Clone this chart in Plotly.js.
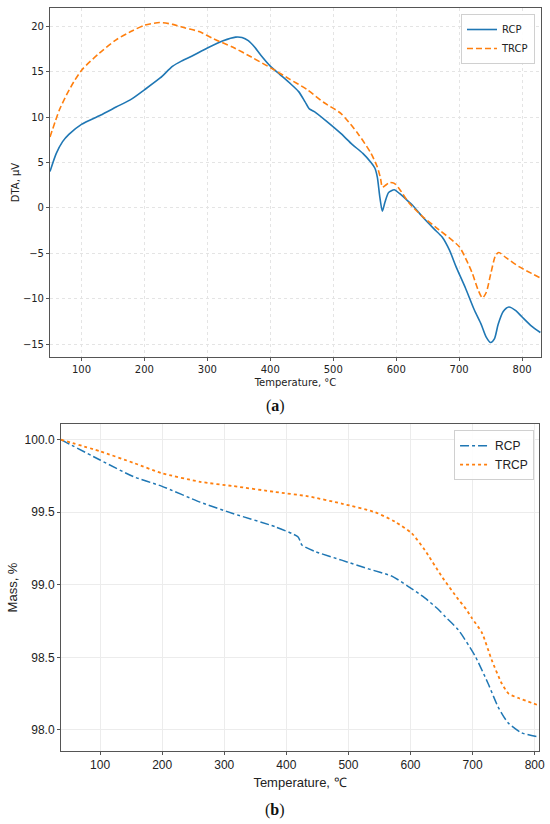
<!DOCTYPE html>
<html>
<head>
<meta charset="utf-8">
<script src="https://cdn.plot.ly/plotly-3.0.1.min.js"></script>
<style>html,body{margin:0;padding:0;background:#fff;}#chart{width:550px;height:824px;}</style>
</head>
<body>
<div id="chart"></div>
<script>
// (a) DTA curves
const dtaRcpT = [50,60,70,80,100,130,155,180,200,225,245,260,275,300,325,345,355,365,375,385,400,415,430,445,455,462,470,490,512,530,547,560,566,570,574,578,582,588,597,605,615,626,642,660,673,685,695,710,724,735,743,750,756,762,770,779,790,800,815,829];
const dtaRcpV = [4.0,6.0,7.3,8.1,9.2,10.2,11.1,12.0,13.0,14.3,15.6,16.2,16.7,17.6,18.4,18.8,18.75,18.4,17.7,16.8,15.6,14.7,13.8,12.8,11.7,10.9,10.6,9.5,8.2,7.0,6.0,5.0,4.4,3.4,1.2,-0.35,0.6,1.7,2.0,1.6,1.0,0.3,-1.0,-2.3,-3.2,-4.7,-6.45,-8.8,-11.2,-12.8,-14.2,-14.8,-14.4,-12.8,-11.4,-10.9,-11.3,-12.0,-13.0,-13.7];
const dtaTrcpT = [50,65,76,88,102,128,155,181,200,224,245,265,287,310,340,370,406,430,459,485,512,539,560,570,575,578,583,589,597,605,621,642,668,700,712,721,730,737,743,750,758,763,775,795,815,829];
const dtaTrcpV = [7.8,10.8,12.4,13.9,15.3,17.0,18.5,19.5,20.1,20.4,20.2,19.8,19.4,18.6,17.7,16.6,15.2,14.2,13.0,11.6,10.4,8.2,6.0,4.5,3.3,2.3,2.5,2.8,2.7,2.1,0.5,-0.95,-2.4,-4.25,-5.8,-7.2,-9.0,-9.9,-9.3,-7.3,-5.2,-4.9,-5.5,-6.45,-7.2,-7.7];
// (b) Mass curves
const massRcpT = [37,100,154,199,261,315,382,419,425,446,489,532,570,596,623,645,656,677,704,725,741,757,779,803];
const massRcpV = [100.0,99.86,99.745,99.68,99.57,99.49,99.40,99.33,99.275,99.23,99.17,99.11,99.06,98.99,98.91,98.83,98.78,98.69,98.51,98.32,98.16,98.05,97.98,97.955];
const massTrcpT = [37,100,154,199,261,315,382,435,489,543,575,602,623,650,677,690,699,715,731,747,758,774,806];
const massTrcpV = [100.0,99.92,99.84,99.77,99.71,99.68,99.64,99.61,99.56,99.50,99.435,99.355,99.24,99.06,98.90,98.83,98.77,98.67,98.48,98.32,98.25,98.22,98.17];
const seriesNames = ['RCP','TRCP'];

const blue = '#1f77b4', orange = '#ff7f0e';
const traces = [
  {x: dtaRcpT, y: dtaRcpV, name: seriesNames[0], mode: 'lines', line: {color: blue, width: 1.6, shape: 'spline', smoothing: 0.7}, xaxis: 'x', yaxis: 'y', legend: 'legend'},
  {x: dtaTrcpT, y: dtaTrcpV, name: seriesNames[1], mode: 'lines', line: {color: orange, width: 1.6, dash: '6px,3px', shape: 'spline', smoothing: 0.7}, xaxis: 'x', yaxis: 'y', legend: 'legend'},
  {x: massRcpT, y: massRcpV, name: seriesNames[0], mode: 'lines', line: {color: blue, width: 1.5, dash: 'dashdot', shape: 'spline', smoothing: 0.6}, xaxis: 'x2', yaxis: 'y2', legend: 'legend2'},
  {x: massTrcpT, y: massTrcpV, name: seriesNames[1], mode: 'lines', line: {color: orange, width: 1.8, dash: 'dot', shape: 'spline', smoothing: 0.6}, xaxis: 'x2', yaxis: 'y2', legend: 'legend2'}
];

const fa = {family: 'DejaVu Sans, sans-serif', size: 10, color: '#222'};
const fb = {family: 'Liberation Sans, Arial, sans-serif', size: 12, color: '#222'};
const common = {showline: true, mirror: true, linecolor: '#555', linewidth: 1, ticks: 'outside', ticklen: 3, tickcolor: '#555', zeroline: false, showgrid: true};

const layout = {
  width: 550, height: 824,
  margin: {l: 0, r: 0, t: 0, b: 0},
  paper_bgcolor: '#fff', plot_bgcolor: '#fff',
  showlegend: true,
  xaxis: Object.assign({}, common, {domain: [0.0909, 0.9836], range: [50, 830], anchor: 'y', tickvals: [100,200,300,400,500,600,700,800], tickfont: fa, gridcolor: '#e4e4e4', griddash: 'dot', title: {text: 'Temperature, °C', font: fa, standoff: 4}}),
  yaxis: Object.assign({}, common, {domain: [0.5667, 0.9903], range: [-16.4, 22], anchor: 'x', tickvals: [-15,-10,-5,0,5,10,15,20], tickfont: fa, gridcolor: '#e4e4e4', griddash: 'dot', title: {text: 'DTA, μV', font: fa, standoff: 1}}),
  xaxis2: Object.assign({}, common, {domain: [0.1109, 0.98], range: [37, 807], anchor: 'y2', tickvals: [100,200,300,400,500,600,700,800], tickfont: fb, gridcolor: '#ececec', title: {text: 'Temperature, ℃', font: Object.assign({}, fb, {size: 13}), standoff: 6}}),
  yaxis2: Object.assign({}, common, {domain: [0.0886, 0.4854], range: [97.855, 100.108], anchor: 'x2', tickvals: [98.0,98.5,99.0,99.5,100.0], ticktext: ['98.0','98.5','99.0','99.5','100.0'], tickfont: fb, gridcolor: '#ececec', title: {text: 'Mass, %', font: Object.assign({}, fb, {size: 13}), standoff: 4}}),
  legend: {x: 0.9727, y: 0.983, xanchor: 'right', yanchor: 'top', bgcolor: 'rgba(255,255,255,0.9)', bordercolor: '#d0d0d0', borderwidth: 1, font: fa, tracegroupgap: 0, itemwidth: 30},
  legend2: {x: 0.971, y: 0.478, xanchor: 'right', yanchor: 'top', bgcolor: 'rgba(255,255,255,0.9)', bordercolor: '#d0d0d0', borderwidth: 1, font: fb, tracegroupgap: 0, itemwidth: 30},
  annotations: [
    {text: '(<b>a</b>)', xref: 'paper', yref: 'paper', x: 0.5, y: 1 - 406/824, xanchor: 'center', yanchor: 'middle', showarrow: false, font: {family: 'Liberation Serif, DejaVu Serif, serif', size: 16, color: '#111'}},
    {text: '(<b>b</b>)', xref: 'paper', yref: 'paper', x: 0.5, y: 1 - 810/824, xanchor: 'center', yanchor: 'middle', showarrow: false, font: {family: 'Liberation Serif, DejaVu Serif, serif', size: 16, color: '#111'}}
  ]
};

Plotly.newPlot('chart', traces, layout, {displayModeBar: false, staticPlot: true});
</script>
</body>
</html>
